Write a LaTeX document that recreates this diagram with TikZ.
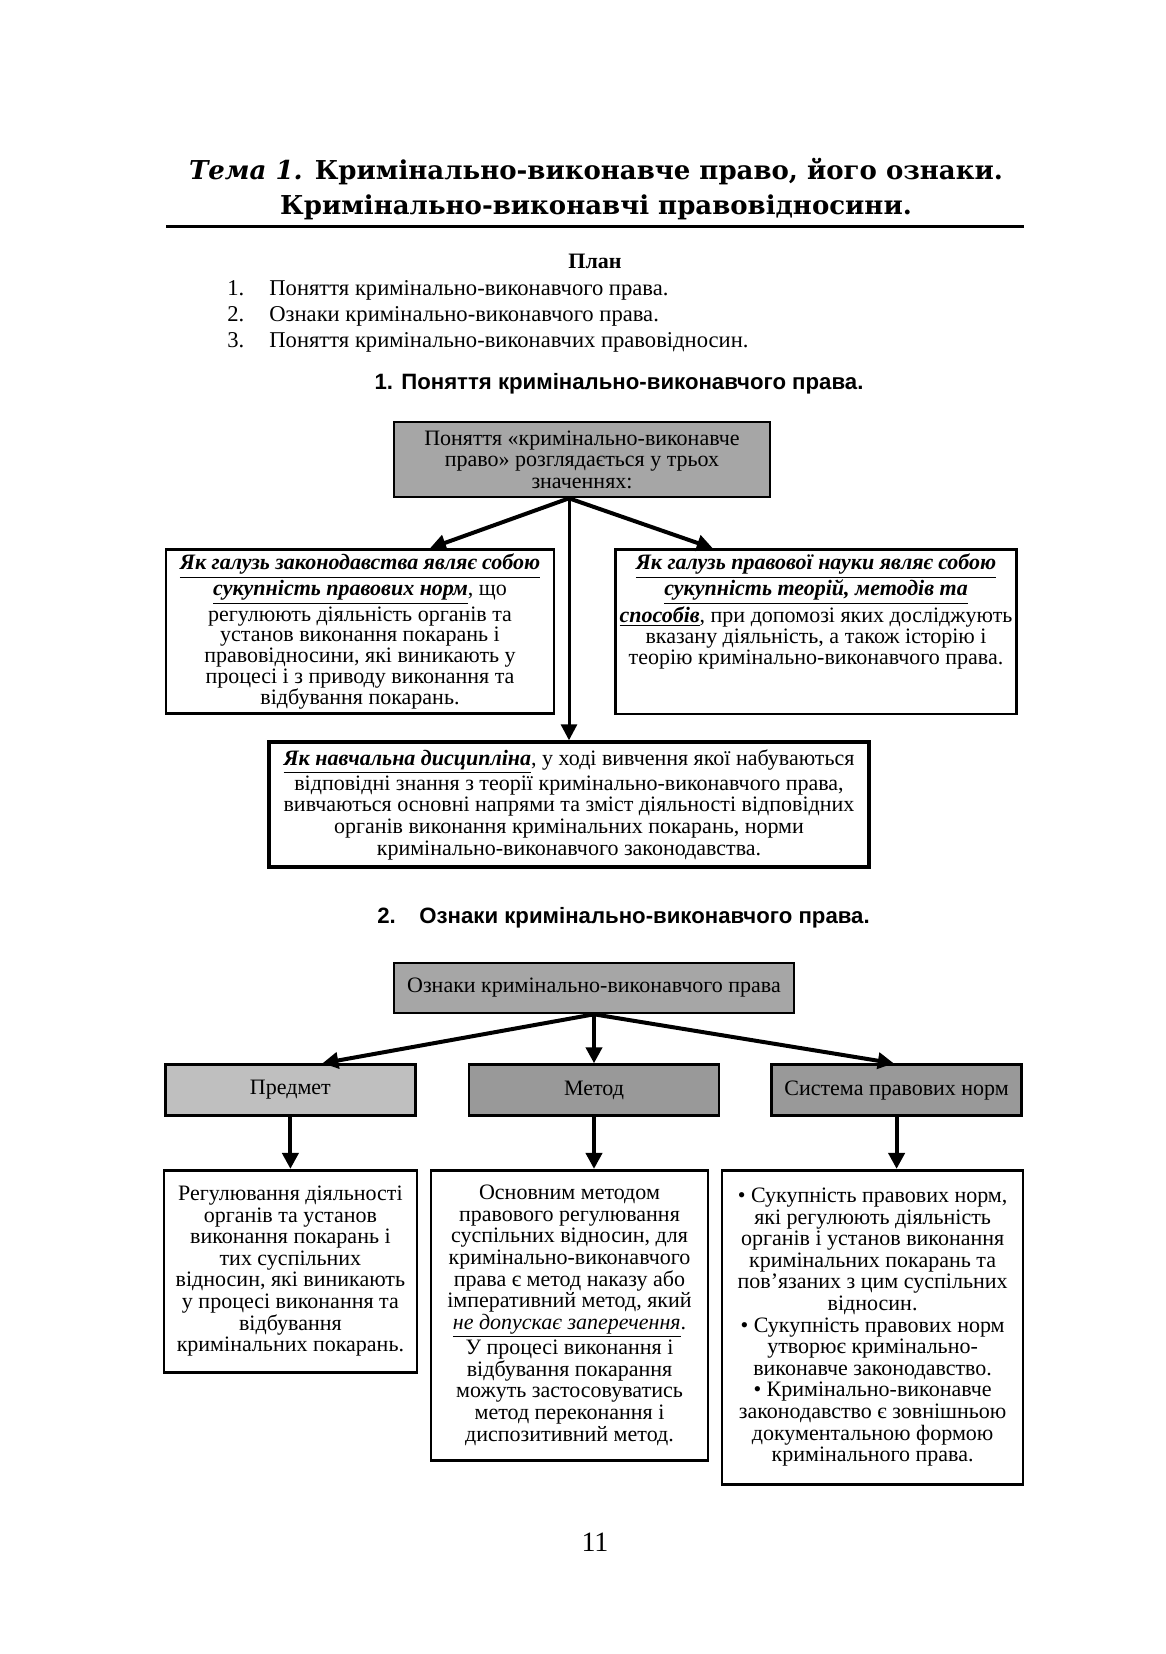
\documentclass[tikz,border=0pt]{standalone}
\usepackage{fontspec}
\setmainfont{Liberation Serif}
\setsansfont{Liberation Sans}
\newfontfamily\titlefont{DejaVu Serif}
\usetikzlibrary{arrows.meta, positioning}
\definecolor{darkgrey}{gray}{0.6}
\definecolor{midgrey}{gray}{0.65}
\definecolor{lightgrey}{gray}{0.75}
\tikzstyle{block}=[draw,fill=white,rectangle,line width=1.3pt,align=center,inner sep=2pt,font=\fontsize{11}{10.8}\selectfont]
\tikzstyle{greyblock}=[block,fill=midgrey]
\tikzstyle{heading}=[inner sep=0pt,font=\sffamily\bfseries\fontsize{11.1}{12}\selectfont]
\tikzstyle{arr}=[line width=2pt,-{Triangle[length=8pt,width=8pt]}]
\newcommand{\hl}[1]{\underline{\textbf{\textit{#1}}}}

\begin{document}
\begin{tikzpicture}[x=0.5pt,y=-0.5pt]
  \useasboundingbox[fill=white] (0,0) rectangle (1166,1654);
  % title and plan
  \node[font=\titlefont\bfseries\fontsize{13}{17.5}\selectfont, align=center] (title) at (596,189)
    {\textit{Тема 1.} Кримінально-виконавче право, його ознаки.\\ Кримінально-виконавчі правовідносини.};
  \draw[line width=1.5pt] (166,226) -- (1024,226);
  \node[font=\bfseries\fontsize{11}{13}\selectfont] (plan) at (595,261) {План};
  \node[anchor=north west, align=left, inner sep=0pt, font=\fontsize{11.3}{13}\selectfont] (planlist) at (227,280)
    {\makebox[21pt][l]{1.}Поняття кримінально-виконавчого права.\\
     \makebox[21pt][l]{2.}Ознаки кримінально-виконавчого права.\\
     \makebox[21pt][l]{3.}Поняття кримінально-виконавчих правовідносин.};

  % part 1
  \node[heading] (head1) at (619,384) {1. Поняття кримінально-виконавчого права.};
  \node[greyblock, minimum width=188pt, minimum height=37.5pt] (concept) at (582,459.5)
    {Поняття «кримінально-виконавче\\ право» розглядається у трьох\\ значеннях:};
  \node[block, font=\fontsize{11}{10.4}\selectfont, minimum width=194pt, minimum height=82pt, below=25pt of concept, xshift=-111pt] (legal)
    {\hl{Як галузь законодавства являє собою}\\
     \hl{сукупність правових норм}, що\\
     регулюють діяльність органів та\\
     установ виконання покарань і\\
     правовідносини, які виникають у\\
     процесі і з приводу виконання та\\
     відбування покарань.};
  \node[block, font=\fontsize{11}{10.4}\selectfont, minimum width=200pt, minimum height=82pt, text depth=23pt, below=25pt of concept, xshift=117pt] (science)
    {\hl{Як галузь правової науки являє собою}\\
     \hl{сукупність теорій, методів та}\\
     \hl{способів}, при допомозі яких досліджують\\
     вказану діяльність, а також історію і\\
     теорію кримінально-виконавчого права.};
  \node[block, line width=1.8pt, minimum width=300pt, minimum height=62.5pt, below=121pt of concept, xshift=-6.5pt] (course)
    {\hl{Як навчальна дисципліна}, у ході вивчення якої набуваються\\
     відповідні знання з теорії кримінально-виконавчого права,\\
     вивчаються основні напрями та зміст діяльності відповідних\\
     органів виконання кримінальних покарань, норми\\
     кримінально-виконавчого законодавства.};
  \coordinate (split) at (concept.south -| course.north);
  \draw[arr] (split) -- (legal.50);
  \draw[arr] (split) -- (science.141);
  \draw[arr, line width=1.5pt] (split) -- (course.north);

  % part 2
  \node[heading, anchor=west] (head2) at (377,918) {\makebox[21pt][l]{2.}Ознаки кримінально-виконавчого права.};
  \node[greyblock, minimum width=200pt, minimum height=25pt] (signs) at (594,988) {Ознаки кримінально-виконавчого права};
  \node[block, fill=darkgrey, minimum width=125pt, minimum height=25.5pt, below=24.5pt of signs] (method) {Метод};
  \node[block, fill=lightgrey, minimum width=125pt, minimum height=25.5pt, left=25.5pt of method] (subject) {Предмет};
  \node[block, fill=darkgrey, minimum width=125pt, minimum height=25.5pt, right=25pt of method] (system) {Система правових норм};
  \draw[arr] (signs.south) -- (subject.40);
  \draw[arr] (signs.south) -- (method.north);
  \draw[arr] (signs.south) -- (system.96);

  \node[block, minimum width=126.5pt, minimum height=101pt, below=26pt of subject] (subjecttext)
    {Регулювання діяльності\\ органів та установ\\ виконання покарань і\\ тих суспільних\\
     відносин, які виникають\\ у процесі виконання та\\ відбування\\ кримінальних покарань.};
  \node[block, minimum width=138.5pt, minimum height=145pt, below=26pt of method, xshift=-12.25pt] (methodtext)
    {Основним методом\\ правового регулювання\\ суспільних відносин, для\\ кримінально-виконавчого\\
     права є метод наказу або\\ імперативний метод, який\\ \underline{\textit{не допускає заперечення}}.\\
     У процесі виконання і\\ відбування покарання\\ можуть застосовуватись\\ метод переконання і\\
     диспозитивний метод.};
  \node[block, minimum width=150.5pt, minimum height=157pt, below=26pt of system, xshift=-12pt] (systemtext)
    {\textbullet\ Сукупність правових норм,\\ які регулюють діяльність\\ органів і установ виконання\\
     кримінальних покарань та\\ пов’язаних з цим суспільних\\ відносин.\\
     \textbullet\ Сукупність правових норм\\ утворює кримінально-\\ виконавче законодавство.\\
     \textbullet\ Кримінально-виконавче\\ законодавство є зовнішньою\\ документальною формою\\
     кримінального права.};
  \draw[arr] (subject.south) -- (subject.south |- subjecttext.north);
  \draw[arr] (method.south) -- (method.south |- methodtext.north);
  \draw[arr] (system.south) -- (system.south |- systemtext.north);

  \node[font=\fontsize{14}{16}\selectfont] (page) at (595,1542) {11};
\end{tikzpicture}
\end{document}
